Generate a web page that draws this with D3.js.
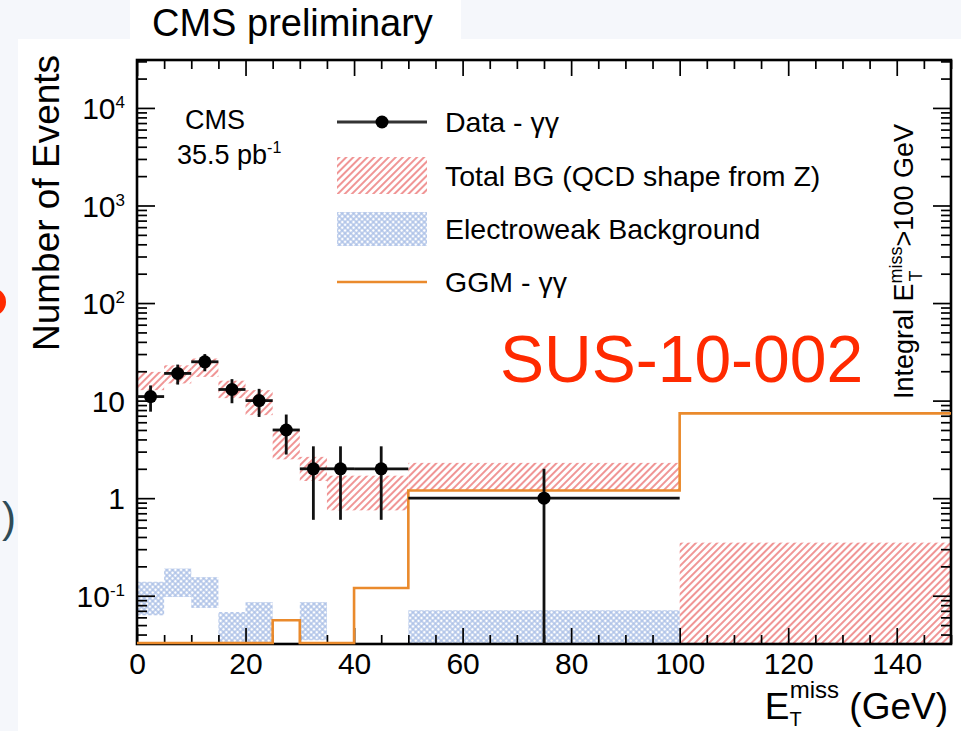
<!DOCTYPE html>
<html>
<head>
<meta charset="utf-8">
<script src="https://cdn.jsdelivr.net/npm/d3@7/dist/d3.min.js"></script>
<style>
  html, body { margin: 0; padding: 0; background: #f5f7fb; }
  svg { display: block; }
  text { font-family: "Liberation Sans", Arial, Helvetica, sans-serif; fill: #000; }
</style>
</head>
<body>
<svg id="chart" width="961" height="731"></svg>
<script>
// Missing transverse energy spectrum, diphoton sample, 35.5 pb^-1
const binEdges   = [0, 5, 10, 15, 20, 25, 30, 35, 40, 50, 100, 150];
const dataCounts = [11, 19, 25, 13, 10, 5, 2, 2, 2, 1];
const dataErr    = [3.3, 4.4, 5.0, 3.6, 3.2, 2.2, 1.4, 1.4, 1.4, 1.0];
const bgLow      = [12.8, 15, 17.5, 10.6, 7.1, 2.5, 1.5, 0.75, 0.75, 1.2, 0];
const bgHigh     = [19.7, 23, 27, 16, 12.8, 5.0, 2.65, 1.7, 1.7, 2.3, 0.35];
const ewkLow     = [0.063, 0.097, 0.075, 0, 0, 0, 0.035, 0, 0, 0, 0];
const ewkHigh    = [0.139, 0.19, 0.155, 0.068, 0.086, 0, 0.086, 0, 0, 0.071, 0];
const ggmSignal  = [0, 0, 0, 0, 0, 0.056, 0, 0, 0.12, 1.2, 7.4];

const xTicks      = [0, 20, 40, 60, 80, 100, 120, 140];
const yTicks      = [0.1, 1, 10, 100, 1000, 10000];
const yTickLabels = [["10", "-1"], ["1", ""], ["10", ""], ["10", "2"], ["10", "3"], ["10", "4"]];
const legendLabels = ["Data - \u03b3\u03b3", "Total BG (QCD shape from Z)", "Electroweak Background", "GGM - \u03b3\u03b3"];

const svg = d3.select("#chart");
const L = 137, R = 951, T = 60, B = 644;

const x = d3.scaleLinear().domain([0, 150]).range([L, R]);
const y = d3.scaleLog().domain([0.032, 31000]).range([B, T]).clamp(true);
const yv = v => (v > 0 ? y(v) : B);

// page backdrop and white panels
svg.append("rect").attr("width", 961).attr("height", 731).attr("fill", "#f5f7fb");
svg.append("rect").attr("x", 18).attr("y", 39).attr("width", 943).attr("height", 692).attr("fill", "#fff");
svg.append("rect").attr("x", 130).attr("y", 0).attr("width", 331).attr("height", 40).attr("fill", "#fff");

// slide fragments at the left border
svg.append("circle").attr("cx", -8).attr("cy", 302).attr("r", 11)
  .attr("fill", "none").attr("stroke", "#ff2a00").attr("stroke-width", 6);
svg.append("text").attr("x", 2).attr("y", 532).attr("font-size", 42)
  .style("fill", "#2f4b57").text(")");

svg.append("text").attr("x", 152).attr("y", 36).attr("font-size", 38).text("CMS preliminary");

// fill patterns
const defs = svg.append("defs");
const hatch = defs.append("pattern").attr("id", "hatchRed").attr("patternUnits", "userSpaceOnUse")
  .attr("width", 5).attr("height", 5).attr("patternTransform", "rotate(45)");
hatch.append("line").attr("x1", 1).attr("y1", 0).attr("x2", 1).attr("y2", 5)
  .attr("stroke", "#ef8a8a").attr("stroke-width", 1.8);
const cross = defs.append("pattern").attr("id", "crossBlue").attr("patternUnits", "userSpaceOnUse")
  .attr("width", 4).attr("height", 4).attr("patternTransform", "rotate(45)");
cross.append("line").attr("x1", 1).attr("y1", 0).attr("x2", 1).attr("y2", 4)
  .attr("stroke", "#a9bee6").attr("stroke-width", 1.4);
cross.append("line").attr("x1", 0).attr("y1", 1).attr("x2", 4).attr("y2", 1)
  .attr("stroke", "#a9bee6").attr("stroke-width", 1.4);
defs.append("clipPath").attr("id", "plotClip").append("rect")
  .attr("x", L).attr("y", T).attr("width", R - L).attr("height", B - T);

const bins = d3.range(binEdges.length - 1).map(i => ({
  x0: binEdges[i], x1: binEdges[i + 1],
  bgLo: bgLow[i], bgHi: bgHigh[i], ewLo: ewkLow[i], ewHi: ewkHigh[i], ggm: ggmSignal[i]
}));

const plot = svg.append("g").attr("clip-path", "url(#plotClip)");

// total background uncertainty band
plot.selectAll("rect.bg").data(bins.filter(d => d.bgHi > 0)).join("rect").attr("class", "bg")
  .attr("x", d => x(d.x0)).attr("width", d => x(d.x1) - x(d.x0))
  .attr("y", d => yv(d.bgHi)).attr("height", d => yv(d.bgLo) - yv(d.bgHi))
  .attr("fill", "url(#hatchRed)");

// electroweak background band
plot.selectAll("rect.ewk").data(bins.filter(d => d.ewHi > 0)).join("rect").attr("class", "ewk")
  .attr("x", d => x(d.x0)).attr("width", d => x(d.x1) - x(d.x0))
  .attr("y", d => yv(d.ewHi)).attr("height", d => yv(d.ewLo) - yv(d.ewHi))
  .attr("fill", "url(#crossBlue)");

// axes: major and minor ticks on all four sides, pointing inward
const axisStyle = g => {
  g.select(".domain").remove();
  g.selectAll(".tick line").attr("stroke", "#000").attr("stroke-width", 1.7);
};
const xMinor = d3.range(0, 151, 5).filter(v => v % 20 !== 0);
const yMinor = [];
[-2, -1, 0, 1, 2, 3, 4].forEach(e => d3.range(2, 10).forEach(k => {
  const v = k * Math.pow(10, e);
  if (v > 0.032 && v < 31000) yMinor.push(v);
}));

svg.append("g").attr("transform", `translate(0,${B})`)
  .call(d3.axisBottom(x).tickValues(xTicks).tickSize(-16).tickPadding(9).tickFormat(d3.format("d")))
  .call(axisStyle)
  .call(g => g.selectAll("text").attr("font-size", 30).style("font-family", "Liberation Sans, Arial, sans-serif"));
svg.append("g").attr("transform", `translate(0,${B})`)
  .call(d3.axisBottom(x).tickValues(xMinor).tickSize(-9).tickFormat(""))
  .call(axisStyle);
svg.append("g").attr("transform", `translate(0,${T})`)
  .call(d3.axisTop(x).tickValues(xTicks).tickSize(-16).tickFormat(""))
  .call(axisStyle);
svg.append("g").attr("transform", `translate(0,${T})`)
  .call(d3.axisTop(x).tickValues(xMinor).tickSize(-9).tickFormat(""))
  .call(axisStyle);

svg.append("g").attr("transform", `translate(${L},0)`)
  .call(d3.axisLeft(y).tickValues(yTicks).tickSize(-18).tickPadding(12).tickFormat(""))
  .call(axisStyle)
  .call(g => g.selectAll(".tick text").each(function (d, i) {
    const t = d3.select(this).attr("font-size", 30).attr("dy", "0.36em")
      .style("font-family", "Liberation Sans, Arial, sans-serif").style("fill", "#000");
    const [base, sup] = yTickLabels[i];
    t.append("tspan").text(base);
    if (sup) t.append("tspan").attr("dy", -11).attr("font-size", 17).text(sup);
  }));
svg.append("g").attr("transform", `translate(${L},0)`)
  .call(d3.axisLeft(y).tickValues(yMinor).tickSize(-10).tickFormat(""))
  .call(axisStyle);
svg.append("g").attr("transform", `translate(${R},0)`)
  .call(d3.axisRight(y).tickValues(yTicks).tickSize(-18).tickFormat(""))
  .call(axisStyle);
svg.append("g").attr("transform", `translate(${R},0)`)
  .call(d3.axisRight(y).tickValues(yMinor).tickSize(-10).tickFormat(""))
  .call(axisStyle);

// frame
svg.append("rect").attr("x", L).attr("y", T).attr("width", R - L).attr("height", B - T)
  .attr("fill", "none").attr("stroke", "#000").attr("stroke-width", 2.6);

// GGM signal histogram as a step line
const stepPts = [];
bins.forEach(d => {
  const yy = Math.min(yv(d.ggm), B - 1);
  stepPts.push([x(d.x0), yy], [x(d.x1), yy]);
});
svg.append("path").attr("d", d3.line()(stepPts))
  .attr("fill", "none").attr("stroke", "#ea8a2c").attr("stroke-width", 2.6);

// data points with error bars
const pts = dataCounts.map((n, i) => ({ x0: binEdges[i], x1: binEdges[i + 1], n, err: dataErr[i] }));
const dataG = svg.append("g").attr("clip-path", "url(#plotClip)");
dataG.selectAll("line.h").data(pts).join("line").attr("class", "h")
  .attr("x1", d => x(d.x0)).attr("x2", d => x(d.x1))
  .attr("y1", d => yv(d.n)).attr("y2", d => yv(d.n))
  .attr("stroke", "#111").attr("stroke-width", 2.8);
dataG.selectAll("line.v").data(pts).join("line").attr("class", "v")
  .attr("x1", d => x((d.x0 + d.x1) / 2)).attr("x2", d => x((d.x0 + d.x1) / 2))
  .attr("y1", d => yv(d.n + d.err)).attr("y2", d => yv(d.n - d.err))
  .attr("stroke", "#111").attr("stroke-width", 2.8);
dataG.selectAll("circle").data(pts).join("circle")
  .attr("cx", d => x((d.x0 + d.x1) / 2)).attr("cy", d => yv(d.n)).attr("r", 6.5).attr("fill", "#000");

// axis titles
svg.append("text").attr("transform", "translate(59,203) rotate(-90)")
  .attr("text-anchor", "middle").attr("font-size", 37).text("Number of Events");

const xt = svg.append("text").attr("x", 948).attr("y", 719).attr("text-anchor", "end").attr("font-size", 37);
xt.append("tspan").text("E");
xt.append("tspan").attr("font-size", 20).attr("dy", 7).text("T");
xt.append("tspan").attr("font-size", 24).attr("dx", -12).attr("dy", -28).text("miss");
xt.append("tspan").attr("dy", 21).text(" (GeV)");

// integral annotation along the right edge
const it = svg.append("text").attr("transform", "translate(913,399) rotate(-90)").attr("font-size", 27);
it.append("tspan").text("Integral E");
it.append("tspan").attr("font-size", 18).attr("dy", -11).text("miss");
it.append("tspan").attr("font-size", 18).attr("dx", -35).attr("dy", 20).text("T");
it.append("tspan").attr("dx", 24).attr("dy", -9).text(">100 GeV");

// experiment label
svg.append("text").attr("x", 215).attr("y", 129).attr("text-anchor", "middle").attr("font-size", 27).text("CMS");
const lumi = svg.append("text").attr("x", 177).attr("y", 164).attr("font-size", 27);
lumi.append("tspan").text("35.5 pb");
lumi.append("tspan").attr("font-size", 16).attr("dy", -11).text("-1");

svg.append("text").attr("x", 500).attr("y", 382).attr("font-size", 66)
  .style("fill", "#ff2a00").text("SUS-10-002");

// legend
const lg = svg.append("g");
const lx0 = 337, lx1 = 427, tx = 445;
lg.append("line").attr("x1", lx0).attr("x2", lx1).attr("y1", 122).attr("y2", 122)
  .attr("stroke", "#333").attr("stroke-width", 3);
lg.append("circle").attr("cx", (lx0 + lx1) / 2).attr("cy", 122).attr("r", 6.5).attr("fill", "#000");
lg.append("rect").attr("x", lx0).attr("y", 157).attr("width", lx1 - lx0).attr("height", 37).attr("fill", "url(#hatchRed)");
lg.append("rect").attr("x", lx0).attr("y", 212).attr("width", lx1 - lx0).attr("height", 34).attr("fill", "url(#crossBlue)");
lg.append("line").attr("x1", lx0).attr("x2", lx1).attr("y1", 282).attr("y2", 282)
  .attr("stroke", "#ea8a2c").attr("stroke-width", 2.6);
const legY = [122, 176, 229, 282];
lg.selectAll("text").data(legendLabels).join("text")
  .attr("x", tx).attr("y", (d, i) => legY[i]).attr("dy", "0.36em").attr("font-size", 28.5).text(d => d);
</script>
</body>
</html>
